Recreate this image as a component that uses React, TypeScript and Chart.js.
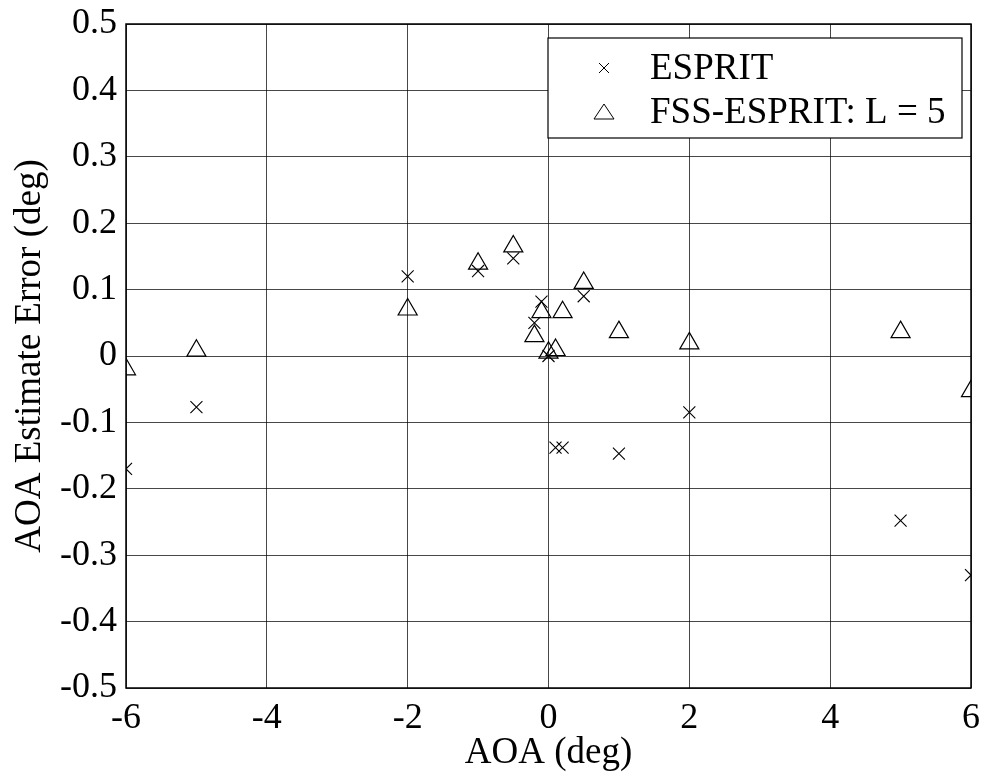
import React, { useEffect, useRef } from "react";
import { Chart, registerables } from "chart.js";

Chart.register(...registerables);

const aoa = [-6, -5, -2, -1, -0.5, -0.2, -0.1, 0, 0.1, 0.2, 0.5, 1, 2, 5, 6];
const espritErr = [-0.17, -0.077, 0.12, 0.128, 0.147, 0.05, 0.082, 0.0, -0.138, -0.138, 0.09, -0.147, -0.085, -0.248, -0.33];
const fssErr = [-0.02, 0.008, 0.07, 0.139, 0.165, 0.03, 0.066, 0.005, 0.009, 0.066, 0.11, 0.036, 0.019, 0.036, -0.053];
const seriesNames = ["ESPRIT", "FSS-ESPRIT: L = 5"];
const xTicks = [-6, -4, -2, 0, 2, 4, 6];
const yTicks = [-0.5, -0.4, -0.3, -0.2, -0.1, 0, 0.1, 0.2, 0.3, 0.4, 0.5];

const FONT = "'Liberation Serif', 'Times New Roman', serif";

const boxPlugin = {
  id: "boxAndLegend",
  afterDraw(chart: any) {
    const { ctx, chartArea } = chart;
    ctx.save();
    ctx.strokeStyle = "#000";
    ctx.lineWidth = 1.5;
    ctx.strokeRect(chartArea.left, chartArea.top, chartArea.right - chartArea.left, chartArea.bottom - chartArea.top);

    // legend box
    const bw = 414, bh = 100;
    const bx = chartArea.right - 9 - bw;
    const by = chartArea.top + 14;
    ctx.fillStyle = "#fff";
    ctx.fillRect(bx, by, bw, bh);
    ctx.lineWidth = 1.2;
    ctx.strokeRect(bx, by, bw, bh);

    const rows = [by + 30, by + 74];
    const mx = bx + 56;
    ctx.strokeStyle = "#000";
    ctx.lineWidth = 1;
    const c = 5;
    ctx.beginPath();
    ctx.moveTo(mx - c, rows[0] - c);
    ctx.lineTo(mx + c, rows[0] + c);
    ctx.moveTo(mx + c, rows[0] - c);
    ctx.lineTo(mx - c, rows[0] + c);
    ctx.stroke();
    ctx.beginPath();
    ctx.moveTo(mx, rows[1] - 8);
    ctx.lineTo(mx + 10, rows[1] + 7);
    ctx.lineTo(mx - 10, rows[1] + 7);
    ctx.closePath();
    ctx.stroke();

    ctx.fillStyle = "#000";
    ctx.font = `37px ${FONT}`;
    ctx.textAlign = "left";
    ctx.textBaseline = "middle";
    ctx.fillText(seriesNames[0], bx + 102, rows[0] + 1);
    ctx.fillText(seriesNames[1], bx + 102, rows[1] + 1);
    ctx.restore();
  },
};

export default function App() {
  const ref = useRef<HTMLCanvasElement>(null);
  useEffect(() => {
    document.body.style.margin = "0";
    const canvas = ref.current;
    if (!canvas) return;
    const chart = new Chart(canvas, {
      type: "scatter",
      data: {
        datasets: [
          {
            label: seriesNames[0],
            data: aoa.map((x, i) => ({ x, y: espritErr[i] })),
            pointStyle: "crossRot",
            pointRadius: 8.5,
            borderColor: "#000",
            backgroundColor: "#000",
            borderWidth: 1.1,
          },
          {
            label: seriesNames[1],
            data: aoa.map((x, i) => ({ x, y: fssErr[i] })),
            pointStyle: "triangle",
            pointRadius: 11,
            borderColor: "#000",
            backgroundColor: "rgba(0,0,0,0)",
            borderWidth: 1.2,
          },
        ],
      },
      options: {
        responsive: false,
        animation: false,
        events: [],
        layout: { padding: { left: 0, top: 24, right: 13, bottom: 0 } },
        plugins: { legend: { display: false }, tooltip: { enabled: false } },
        scales: {
          x: {
            type: "linear",
            min: -6,
            max: 6,
            afterFit: (s: any) => { s.height = 91; s.paddingLeft = 0; s.paddingRight = 0; },
            afterBuildTicks: (s: any) => { s.ticks = xTicks.map((v) => ({ value: v })); },
            grid: { color: "rgba(0,0,0,0.72)", lineWidth: 1, drawTicks: false },
            border: { display: false },
            ticks: {
              padding: 9,
              color: "#000",
              font: { family: FONT, size: 36 },
              callback: (v: any) => String(v),
            },
            title: {
              display: true,
              text: "AOA (deg)",
              color: "#000",
              font: { family: FONT, size: 37 },
              padding: { top: 0, bottom: 4 },
            },
          },
          y: {
            type: "linear",
            min: -0.5,
            max: 0.5,
            afterFit: (s: any) => { s.width = 126; s.paddingTop = 0; s.paddingBottom = 0; },
            afterBuildTicks: (s: any) => { s.ticks = yTicks.map((v) => ({ value: v })); },
            grid: { color: "rgba(0,0,0,0.72)", lineWidth: 1, drawTicks: false },
            border: { display: false },
            ticks: {
              padding: 9,
              color: "#000",
              font: { family: FONT, size: 36 },
              callback: (v: any) => String(Number(Number(v).toFixed(1))),
            },
            title: {
              display: true,
              text: "AOA Estimate Error (deg)",
              color: "#000",
              font: { family: FONT, size: 37 },
              padding: { top: 8, bottom: 0 },
            },
          },
        },
      },
      plugins: [boxPlugin],
    });
    return () => chart.destroy();
  }, []);
  return (
    <div style={{ position: "absolute", left: 0, top: 0, width: 984, height: 779, background: "#fff" }}>
      <canvas ref={ref} width={984} height={779} />
    </div>
  );
}
